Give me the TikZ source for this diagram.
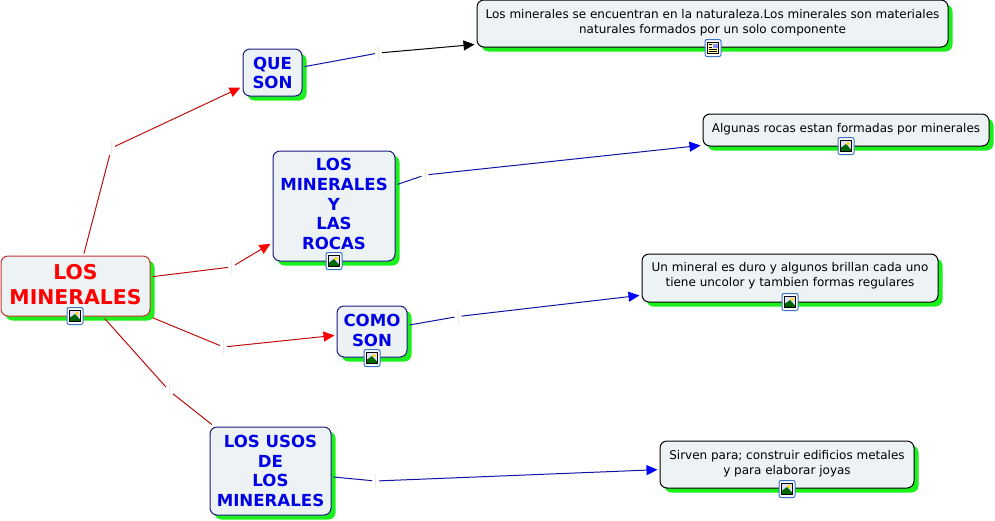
\documentclass[tikz,border=0pt]{standalone}
\usepackage{fontspec}
\setmainfont{DejaVu Sans}
\usetikzlibrary{arrows.meta,shadows}
\definecolor{boxfill}{HTML}{EDF2F5}
\definecolor{shadowgreen}{HTML}{1CF01C}
\definecolor{navy}{HTML}{1A1A80}
\definecolor{mainred}{HTML}{C83232}
\definecolor{linkred}{HTML}{E01010}
\definecolor{iconblue}{HTML}{3A72C4}
\newcommand{\liftlines}[2]{\raisebox{#1}[0pt][0pt]{\begin{tabular}{@{}c@{}}#2\end{tabular}}}
\newcommand{\picicon}[3]{%
  \node[iconnode] (#1) at (#2,#3) {};
  \fill[blue!12] (#2-5.5,#3-5.5) rectangle (#2+5.5,#3+5.5);
  \fill[green!40!black] (#2-5.5,#3+5.5) -- (#2-5.5,#3+2) -- (#2,#3-2) -- (#2+5.5,#3+4) -- (#2+5.5,#3+5.5) -- cycle;
  \fill[yellow!80!orange] (#2+2,#3-2.5) circle (1.8);
  \draw[black,line width=.8pt] (#2-5.5,#3-5.5) rectangle (#2+5.5,#3+5.5);
}
\newcommand{\docicon}[3]{%
  \node[iconnode] (#1) at (#2,#3) {};
  \fill[yellow!35] (#2-5.5,#3-5.5) rectangle (#2+5.5,#3+5.5);
  \fill[blue!45] (#2-0.5,#3-4.5) rectangle (#2+4.5,#3-0.5);
  \draw[black,line width=.7pt] (#2-4,#3-3.5) -- (#2-1.5,#3-3.5) (#2-4,#3-1) -- (#2-1.5,#3-1) (#2-4,#3+1.5) -- (#2+4,#3+1.5) (#2-4,#3+3.5) -- (#2+4,#3+3.5);
  \draw[black,line width=.8pt] (#2-5.5,#3-5.5) rectangle (#2+5.5,#3+5.5);
}
\newcommand{\gapmark}[3]{%
  \node[gapnode] (#1) at (#2,#3) {};
  \draw[black!8,line width=.8pt] (#1.north) -- (#1.south);
}
\tikzset{
  x=1pt,y=-1pt,
  basebox/.style={rounded corners=7pt,draw,line width=1pt,fill=boxfill,align=center,inner sep=0pt,outer sep=2.5pt,
    general shadow={shadow xshift=4.5pt,shadow yshift=-4.5pt,fill=shadowgreen,draw=none}},
  mainbox/.style={basebox,draw=mainred,text=red,font=\fontsize{20.4}{25}\selectfont\bfseries},
  topicbox/.style={basebox,draw=navy,text=blue!90!black,font=\fontsize{16.6}{19.6}\selectfont\bfseries},
  textbox/.style={basebox,draw=black,text=black,font=\fontsize{12}{15}\selectfont},
  iconnode/.style={draw=iconblue,line width=1pt,fill=white,rounded corners=2pt,minimum width=16pt,minimum height=17pt,inner sep=0pt},
  gapnode/.style={minimum width=7pt,minimum height=14pt,inner sep=0pt,outer sep=0pt},
  redlink/.style={draw=linkred!85!black,line width=1pt},
  bluelink/.style={draw=navy!70!blue,line width=1pt},
  redarrow/.style={redlink,-{Triangle[length=11pt,width=10pt,color=red]}},
  bluearrow/.style={bluelink,-{Triangle[length=11pt,width=10pt,color=blue]}},
  blackarrow/.style={draw=black,line width=1pt,-{Triangle[length=11pt,width=10pt]}},
}
\begin{document}
\begin{tikzpicture}
\useasboundingbox (0,0) rectangle (995,520);
\node[mainbox,minimum width=149pt,minimum height=60pt] (main) at (75.5,286) {\liftlines{-6pt}{LOS\\MINERALES}};
\node[topicbox,minimum width=59pt,minimum height=47pt] (que) at (272.5,72.5) {\liftlines{-7pt}{QUE\\SON}};
\node[topicbox,minimum width=122pt,minimum height=110pt] (rocas) at (334,206) {\liftlines{-4.5pt}{LOS\\MINERALES\\Y\\LAS\\ROCAS}};
\node[topicbox,minimum width=70pt,minimum height=51pt] (como) at (372,331.5) {\liftlines{-5.5pt}{COMO\\SON}};
\node[topicbox,minimum width=121pt,minimum height=88pt] (usos) at (270.5,471) {\liftlines{-6.5pt}{LOS USOS\\DE\\LOS\\MINERALES}};
\node[textbox,minimum width=471pt,minimum height=47pt] (t1) at (712.5,23.5) {\liftlines{-2.5pt}{Los minerales se encuentran en la naturaleza.Los minerales son materiales\\naturales formados por un solo componente}};
\node[textbox,minimum width=286pt,minimum height=32pt] (t2) at (846,130) {\liftlines{-2pt}{Algunas rocas estan formadas por minerales}};
\node[textbox,minimum width=296pt,minimum height=48pt] (t3) at (790,278) {\liftlines{-1pt}{Un mineral es duro y algunos brillan cada uno\\tiene uncolor y tambien formas regulares}};
\node[textbox,minimum width=254pt,minimum height=47pt] (t4) at (787,464.5) {\liftlines{-2pt}{Sirven para; construir edificios metales\\y para elaborar joyas}};
\gapmark{g1}{111.5}{148}
\gapmark{g2}{231.5}{267}
\gapmark{g3}{223.5}{347}
\gapmark{g4}{169.5}{391}
\gapmark{g5}{378.5}{53}
\gapmark{g6}{425}{175}
\gapmark{g7}{458}{316.5}
\gapmark{g8}{375.5}{481}
\draw[redlink] (main) -- (g1);
\draw[redarrow] (g1) -- (que);
\draw[redlink] (main) -- (g2);
\draw[redarrow] (g2) -- (rocas);
\draw[redlink] (main) -- (g3);
\draw[redarrow] (g3) -- (como);
\draw[redlink] (main) -- (g4);
\draw[redlink] (g4) -- (usos);
\draw[bluelink] (que) -- (g5);
\draw[blackarrow] (g5) -- (t1);
\draw[bluelink] (rocas) -- (g6);
\draw[bluearrow] (g6) -- (t2);
\draw[bluelink] (como) -- (g7);
\draw[bluearrow] (g7) -- (t3);
\draw[bluelink] (usos) -- (g8);
\draw[bluearrow] (g8) -- (t4);
\picicon{i1}{75}{316}
\picicon{i2}{334}{261}
\picicon{i3}{372}{358}
\docicon{i4}{713}{48}
\picicon{i5}{846}{146}
\picicon{i6}{790}{302}
\picicon{i7}{787}{489}
\end{tikzpicture}
\end{document}
